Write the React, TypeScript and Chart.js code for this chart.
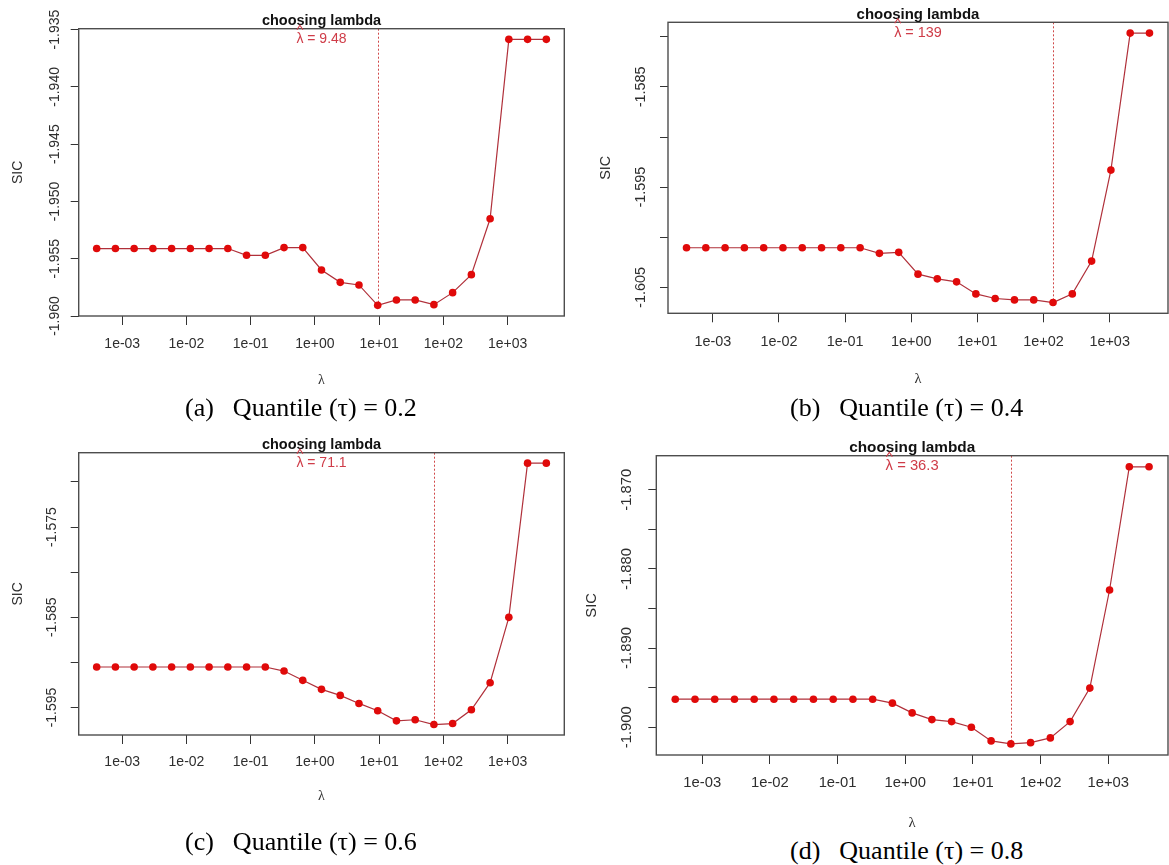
import React, { useEffect, useRef } from "react";
import { Chart, registerables } from "chart.js";

Chart.register(...registerables);

// ---------------- data ----------------
const lambdaGrid: number[] = [
  0.0004, 0.000783, 0.001532, 0.003, 0.005871, 0.01149, 0.02249, 0.04403,
  0.08618, 0.1687, 0.3302, 0.6462, 1.265, 2.476, 4.846, 9.486, 18.57, 36.34,
  71.13, 139.2, 272.5, 533.4, 1044, 2043, 4000,
];

const sicTau02: number[] = [
  -1.95411, -1.95411, -1.95411, -1.95411, -1.95411, -1.95411, -1.95411, -1.95411,
  -1.9547, -1.9547, -1.95403, -1.95403, -1.95598, -1.95706, -1.95729, -1.95907,
  -1.9586, -1.9586, -1.95901, -1.95796, -1.95639, -1.95151, -1.93585, -1.93585, -1.93585,
];

const sicTau04: number[] = [
  -1.60104, -1.60104, -1.60104, -1.60104, -1.60104, -1.60104, -1.60104, -1.60104,
  -1.60104, -1.60104, -1.6016, -1.6015, -1.60367, -1.60414, -1.60444, -1.60564,
  -1.6061, -1.60624, -1.60624, -1.6065, -1.60564, -1.60237, -1.5933, -1.57964, -1.57964,
];

const sicTau06: number[] = [
  -1.59051, -1.59051, -1.59051, -1.59051, -1.59051, -1.59051, -1.59051, -1.59051,
  -1.59051, -1.59051, -1.59096, -1.59199, -1.59299, -1.59366, -1.59455, -1.59536,
  -1.59648, -1.59636, -1.59689, -1.59678, -1.59525, -1.59225, -1.58501, -1.56792, -1.56792,
];

const sicTau08: number[] = [
  -1.89646, -1.89646, -1.89646, -1.89646, -1.89646, -1.89646, -1.89646, -1.89646,
  -1.89646, -1.89646, -1.89646, -1.89696, -1.89819, -1.89904, -1.89929, -1.9,
  -1.90173, -1.90211, -1.90195, -1.90135, -1.89929, -1.89506, -1.88266, -1.86709, -1.86709,
];

const selectedLambda: number[] = [9.48, 139, 71.1, 36.3];
const selectedLabel: string[] = ["9.48", "139", "71.1", "36.3"];

const xTickValues: number[] = [1e-3, 1e-2, 1e-1, 1, 10, 100, 1000];
const xTickLabels: string[] = ["1e-03", "1e-02", "1e-01", "1e+00", "1e+01", "1e+02", "1e+03"];

const yTicksTau02: number[] = [-1.96, -1.955, -1.95, -1.945, -1.94, -1.935];
const yLabelsTau02: string[] = ["-1.960", "-1.955", "-1.950", "-1.945", "-1.940", "-1.935"];
const yTicksTau04: number[] = [-1.605, -1.6, -1.595, -1.59, -1.585, -1.58];
const yLabelsTau04: string[] = ["-1.605", "", "-1.595", "", "-1.585", ""];
const yTicksTau06: number[] = [-1.595, -1.59, -1.585, -1.58, -1.575, -1.57];
const yLabelsTau06: string[] = ["-1.595", "", "-1.585", "", "-1.575", ""];
const yTicksTau08: number[] = [-1.9, -1.895, -1.89, -1.885, -1.88, -1.875, -1.87];
const yLabelsTau08: string[] = ["-1.900", "", "-1.890", "", "-1.880", "", "-1.870"];

const chartTitle = "choosing lambda";
const yAxisTitle = "SIC";
const xAxisTitle = "λ";
const captionTags: string[] = ["(a)", "(b)", "(c)", "(d)"];
const captionTexts: string[] = [
  "Quantile (τ) = 0.2",
  "Quantile (τ) = 0.4",
  "Quantile (τ) = 0.6",
  "Quantile (τ) = 0.8",
];

// ---------------- layout / style ----------------
const SANS = '"Liberation Sans", Arial, sans-serif';
const SERIF = '"Liberation Serif", "Times New Roman", serif';

type Layout = {
  cx: number; cy: number; cw: number; ch: number;
  L: number; T: number; R: number; B: number; s: number;
  yLabGap: number; sicGap: number; xLabGap: number; lamGap: number;
  capX: number; capY: number;
};

const layouts: Layout[] = [
  { cx: 0, cy: 0, cw: 580, ch: 395, L: 78.7, T: 28.7, R: 564.3, B: 316, s: 1, yLabGap: 23.7, sicGap: 60.7, xLabGap: 28, lamGap: 64, capX: 185, capY: 408 },
  { cx: 580, cy: 0, cw: 592, ch: 395, L: 668, T: 22.3, R: 1168.6, B: 313.3, s: 1.031, yLabGap: 26.7, sicGap: 61.7, xLabGap: 28.4, lamGap: 66, capX: 790, capY: 408 },
  { cx: 0, cy: 430, cw: 580, ch: 400, L: 78.7, T: 452.7, R: 564.3, B: 735, s: 1, yLabGap: 27, sicGap: 61, xLabGap: 26.7, lamGap: 61.7, capX: 185, capY: 842 },
  { cx: 580, cy: 430, cw: 592, ch: 405, L: 656.3, T: 455.7, R: 1170, B: 755, s: 1.058, yLabGap: 29.3, sicGap: 64.3, xLabGap: 28.3, lamGap: 68.3, capX: 790, capY: 851 },
];

const panelSeries: number[][] = [sicTau02, sicTau04, sicTau06, sicTau08];
const panelYTicks: number[][] = [yTicksTau02, yTicksTau04, yTicksTau06, yTicksTau08];
const panelYLabels: string[][] = [yLabelsTau02, yLabelsTau04, yLabelsTau06, yLabelsTau08];

const LINE_COLOR = "#b0303a";
const POINT_COLOR = "#e00a0a";
const LABEL_RED = "#cf3c48";
const AXIS_TEXT = "#2e2e2e";

function measure(text: string, font: string): number {
  const c = document.createElement("canvas").getContext("2d")!;
  c.font = font;
  return c.measureText(text).width;
}

function Panel({ idx }: { idx: number }) {
  const ref = useRef<HTMLCanvasElement | null>(null);
  const lay = layouts[idx];

  useEffect(() => {
    const canvas = ref.current;
    if (!canvas) return;
    const sic = panelSeries[idx];
    const yTicks = panelYTicks[idx];
    const yLabels = panelYLabels[idx];
    const { cx, cy, cw, ch, L, T, R, B, s } = lay;
    const fs = 14 * s;
    const lh = fs * 1.2;

    // R-style 4% axis extension
    const lx0 = Math.log10(lambdaGrid[0]);
    const lx1 = Math.log10(lambdaGrid[lambdaGrid.length - 1]);
    const ex = 0.04 * (lx1 - lx0);
    const xMin = Math.pow(10, lx0 - ex);
    const xMax = Math.pow(10, lx1 + ex);
    const yLo = Math.min(...sic);
    const yHi = Math.max(...sic);
    const ey = 0.04 * (yHi - yLo);

    const tickFontStr = `${fs}px ${SANS}`;
    const widest = Math.max(...yLabels.map((t) => measure(t, tickFontStr)));
    const yPad = lay.yLabGap - 8 - widest / 2;
    const xPad = lay.xLabGap - 9 - lh / 2;
    const sicPad = L - lay.sicGap - cx - lh / 2;
    const lamPad = ch - (B + lay.lamGap - cy) - lh / 2;

    // selected lambda index
    let selIdx = 0;
    let best = Infinity;
    lambdaGrid.forEach((v, i) => {
      const d = Math.abs(Math.log10(v) - Math.log10(selectedLambda[idx]));
      if (d < best) { best = d; selIdx = i; }
    });

    const decor = {
      id: "decor" + idx,
      beforeDatasetsDraw(chart: any) {
        const { ctx, chartArea: a, scales } = chart;
        const xs = Math.round(scales.x.getPixelForValue(lambdaGrid[selIdx])) + 0.5;
        const ys = scales.y.getPixelForValue(sic[selIdx]);
        ctx.save();
        ctx.strokeStyle = "#d04848";
        ctx.lineWidth = 1;
        ctx.setLineDash([2, 2]);
        ctx.beginPath();
        ctx.moveTo(xs, a.top);
        ctx.lineTo(xs, ys);
        ctx.stroke();
        ctx.restore();
      },
      afterDraw(chart: any) {
        const { ctx, chartArea: a } = chart;
        ctx.save();
        // box
        ctx.strokeStyle = "#4d4d4d";
        ctx.lineWidth = 1.4;
        ctx.strokeRect(a.left, a.top, a.right - a.left, a.bottom - a.top);
        const mid = (a.left + a.right) / 2;
        // title
        ctx.fillStyle = "#111111";
        ctx.font = `bold ${14.5 * s}px ${SANS}`;
        ctx.textAlign = "center";
        ctx.textBaseline = "alphabetic";
        ctx.fillText(chartTitle, mid, a.top - 3.5);
        // lambda-hat label
        ctx.font = `${fs}px ${SANS}`;
        const txt = `λ = ${selectedLabel[idx]}`;
        const w = ctx.measureText(txt).width;
        const wl = ctx.measureText("λ").width;
        const x0 = mid - w / 2;
        ctx.fillStyle = LABEL_RED;
        ctx.textAlign = "left";
        ctx.textBaseline = "middle";
        ctx.fillText(txt, x0, a.top + 10.5);
        const hx = x0 + wl / 2;
        ctx.strokeStyle = LABEL_RED;
        ctx.lineWidth = 1.1;
        ctx.beginPath();
        ctx.moveTo(hx - 3, a.top + 1);
        ctx.lineTo(hx, a.top - 3.5);
        ctx.lineTo(hx + 3, a.top + 1);
        ctx.stroke();
        ctx.restore();
      },
    };

    const chart = new Chart(canvas, {
      type: "line",
      data: {
        datasets: [
          {
            data: lambdaGrid.map((x, i) => ({ x, y: sic[i] })),
            borderColor: LINE_COLOR,
            borderWidth: 1.2,
            pointRadius: 3.8,
            pointBackgroundColor: POINT_COLOR,
            pointBorderColor: POINT_COLOR,
            pointBorderWidth: 0,
            tension: 0,
            fill: false,
          },
        ],
      },
      options: {
        responsive: false,
        animation: false,
        devicePixelRatio: 1,
        layout: { padding: { left: 0, top: T - cy, right: cw - (R - cx), bottom: 0 } },
        plugins: {
          legend: { display: false },
          tooltip: { enabled: false },
          title: { display: false },
        },
        scales: {
          x: {
            type: "logarithmic",
            min: xMin,
            max: xMax,
            afterBuildTicks: (sc: any) => {
              sc.ticks = xTickValues.map((v) => ({ value: v }));
            },
            afterFit: (sc: any) => {
              sc.height = cy + ch - B;
            },
            ticks: {
              callback: (_v: any, i: number) => xTickLabels[i],
              autoSkip: false,
              minRotation: 0,
              maxRotation: 0,
              padding: xPad,
              font: { family: SANS, size: fs },
              color: AXIS_TEXT,
            },
            grid: {
              display: true,
              drawOnChartArea: false,
              drawTicks: true,
              tickLength: 9,
              tickColor: "#333333",
              lineWidth: 1,
            },
            border: { display: false },
            title: {
              display: true,
              text: xAxisTitle,
              font: { family: SERIF, size: fs },
              color: AXIS_TEXT,
              padding: { top: 0, bottom: lamPad },
            },
          },
          y: {
            type: "linear",
            min: yLo - ey,
            max: yHi + ey,
            afterBuildTicks: (sc: any) => {
              sc.ticks = yTicks.map((v) => ({ value: v }));
            },
            afterFit: (sc: any) => {
              sc.width = L - cx;
            },
            ticks: {
              callback: (_v: any, i: number) => yLabels[i],
              autoSkip: false,
              minRotation: 90,
              maxRotation: 90,
              crossAlign: "center",
              padding: yPad,
              font: { family: SANS, size: fs },
              color: AXIS_TEXT,
            },
            grid: {
              display: true,
              drawOnChartArea: false,
              drawTicks: true,
              tickLength: 8,
              tickColor: "#333333",
              lineWidth: 1,
            },
            border: { display: false },
            title: {
              display: true,
              text: yAxisTitle,
              font: { family: SANS, size: fs },
              color: AXIS_TEXT,
              padding: { top: sicPad, bottom: 0 },
            },
          },
        },
      },
      plugins: [decor],
    } as any);

    return () => chart.destroy();
  }, [idx]);

  return (
    <>
      <canvas
        ref={ref}
        width={lay.cw}
        height={lay.ch}
        style={{ position: "absolute", left: lay.cx, top: lay.cy, width: lay.cw, height: lay.ch }}
      />
      <div
        style={{
          position: "absolute",
          left: lay.capX,
          top: lay.capY - 15,
          height: 30,
          lineHeight: "30px",
          fontFamily: SERIF,
          fontSize: 26,
          color: "#000",
          whiteSpace: "pre",
        }}
      >
        <span>{captionTags[idx]}</span>
        <span style={{ marginLeft: 19 }}>{captionTexts[idx]}</span>
      </div>
    </>
  );
}

export default function App() {
  return (
    <div
      style={{
        position: "fixed",
        left: 0,
        top: 0,
        width: 1169,
        height: 865,
        overflow: "hidden",
        background: "#ffffff",
      }}
    >
      {[0, 1, 2, 3].map((i) => (
        <Panel key={i} idx={i} />
      ))}
    </div>
  );
}
